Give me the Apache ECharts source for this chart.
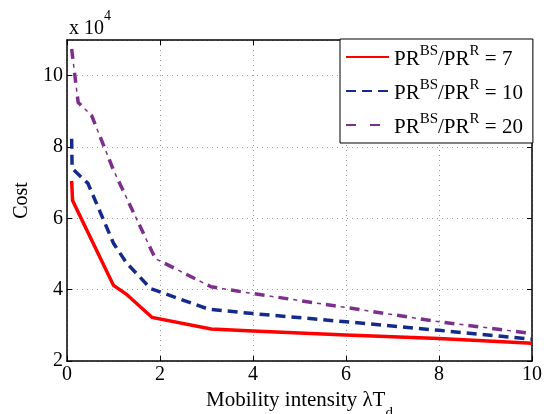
<!DOCTYPE html>
<html>
<head>
<meta charset="utf-8">
<script src="https://cdn.jsdelivr.net/npm/echarts@6/dist/echarts.min.js"></script>
<style>
  html, body { margin: 0; padding: 0; background: #fff; }
  #chart { width: 548px; height: 414px; }
</style>
</head>
<body>
<div id="chart"></div>
<script>
// Cost (x 10^4) versus mobility intensity for three PR^BS/PR^R ratios
const ratioLabels = ['7', '10', '20'];

const xRatio7  = [0.1, 0.12, 1.0, 1.28, 1.83, 3.1, 4, 6, 8, 10];
const cost7    = [7.05, 6.5, 4.12, 3.87, 3.22, 2.9, 2.84, 2.73, 2.63, 2.5];

const xRatio10 = [0.1, 0.11, 0.45, 1.0, 1.28, 1.8, 3.05, 4, 6, 8, 10];
const cost10   = [8.23, 7.4, 6.98, 5.3, 4.75, 4.03, 3.45, 3.33, 3.1, 2.86, 2.61];

const xRatio20 = [0.1, 0.24, 0.53, 1.0, 1.9, 3.1, 4, 6, 8, 10];
const cost20   = [10.75, 9.25, 8.88, 7.35, 4.87, 4.08, 3.89, 3.5, 3.1, 2.77];

const xTicks = [0, 2, 4, 6, 8, 10];
const yTicks = [2, 4, 6, 8, 10];

const FONT = '"Liberation Serif", "DejaVu Serif", serif';

function pairs(xs, ys) { return xs.map((x, i) => [x, ys[i]]); }

const legendName = r => 'PR^BS/PR^R = ' + r;

// Each curve may be built from several strokes (the dash-dot one uses a thick
// dash stroke plus a thin dot stroke laid over the same path).
const curves = [
  { x: xRatio7,  y: cost7,  strokes: [{ color: '#ff0000', width: 3.5, type: 'solid' }] },
  { x: xRatio10, y: cost10, strokes: [{ color: '#142b8c', width: 3.5, type: [10, 6] }] },
  { x: xRatio20, y: cost20, strokes: [
      { color: '#7e2f8e', width: 3.5, type: [10, 14] },
      { color: '#7e2f8e', width: 1.5, type: [4, 20], offset: 9 }
  ] }
];

const series = [];
curves.forEach((c, i) => {
  c.strokes.forEach((st, k) => {
    series.push({
      name: legendName(ratioLabels[i]),
      type: 'line',
      xAxisIndex: 0, yAxisIndex: 0,
      data: pairs(c.x, c.y),
      showSymbol: false, symbol: 'none',
      lineStyle: { color: st.color, width: st.width, type: st.type,
                   dashOffset: st.offset || 0, cap: 'butt', join: 'miter' },
      itemStyle: { color: st.color },
      z: 10 - i
    });
  });
});

const chart = echarts.init(document.getElementById('chart'), null, { renderer: 'canvas' });

const frameLine = { show: true, onZero: false, lineStyle: { color: '#000', width: 1.5 } };
const innerTick = { show: true, inside: true, length: 5, lineStyle: { color: '#000', width: 1 } };
const dotGrid = { show: true, lineStyle: { color: '#9a9a9a', type: [1, 4], width: 1 } };

chart.setOption({
  animation: false,
  backgroundColor: '#fff',
  textStyle: { fontFamily: FONT },
  title: {
    left: 64, top: 4,
    text: '{n|x 10}{s|4}',
    textStyle: {
      fontWeight: 'normal',
      rich: {
        n: { fontFamily: FONT, fontSize: 20, fontWeight: 'normal', color: '#000', verticalAlign: 'bottom', lineHeight: 30 },
        s: { fontFamily: FONT, fontSize: 14, fontWeight: 'normal', color: '#000', verticalAlign: 'top', lineHeight: 14 }
      }
    }
  },
  grid: { left: 67, right: 16, top: 40, bottom: 53, containLabel: false, outerBoundsMode: 'none' },
  legend: {
    orient: 'vertical',
    left: 340, top: 39,
    padding: [5, 10, 5, 5],
    itemGap: 8,
    itemWidth: 43, itemHeight: 10,
    backgroundColor: '#fff',
    borderColor: '#000', borderWidth: 1, borderRadius: 0,
    itemStyle: { opacity: 0 },
    data: ratioLabels.map(legendName),
    formatter: name => {
      const r = name.split('= ')[1];
      return '{b|PR}{s|BS}{b|/PR}{s|R}{b| = ' + r + '}';
    },
    textStyle: {
      rich: {
        b: { fontFamily: FONT, fontSize: 21, color: '#000', verticalAlign: 'bottom', lineHeight: 26 },
        s: { fontFamily: FONT, fontSize: 15, color: '#000', verticalAlign: 'top', lineHeight: 15 }
      }
    }
  },
  xAxis: [
    {
      type: 'value', position: 'bottom', min: 0, max: 10, interval: 2,
      axisLine: frameLine, axisTick: innerTick, splitLine: dotGrid,
      axisLabel: { color: '#000', fontSize: 20, fontFamily: FONT, margin: 4,
        formatter: v => (xTicks.includes(v) ? String(v) : '') },
      name: '{m|Mobility intensity λT}{d|d}',
      nameLocation: 'middle', nameGap: 19,
      nameTextStyle: {
        rich: {
          m: { fontFamily: FONT, fontSize: 21, color: '#000', verticalAlign: 'top', lineHeight: 22 },
          d: { fontFamily: FONT, fontSize: 15, color: '#000', verticalAlign: 'bottom', lineHeight: 31 }
        }
      }
    },
    {
      type: 'value', position: 'top', min: 0, max: 10, interval: 2,
      axisLine: frameLine, axisTick: innerTick, splitLine: { show: false },
      axisLabel: { show: false }
    }
  ],
  yAxis: [
    {
      type: 'value', position: 'left', min: 2, max: 11, interval: 2,
      axisLine: frameLine, axisTick: innerTick, splitLine: dotGrid,
      axisLabel: { color: '#000', fontSize: 20, fontFamily: FONT, margin: 4,
        showMaxLabel: false,
        formatter: v => (yTicks.includes(v) ? String(v) : '') },
      name: 'Cost', nameLocation: 'middle', nameGap: 33, nameRotate: 90,
      nameTextStyle: { color: '#000', fontSize: 20, fontFamily: FONT }
    },
    {
      type: 'value', position: 'right', min: 2, max: 11, interval: 2,
      axisLine: frameLine, axisTick: innerTick, splitLine: { show: false },
      axisLabel: { show: false }
    }
  ],
  series: series
});
</script>
</body>
</html>
